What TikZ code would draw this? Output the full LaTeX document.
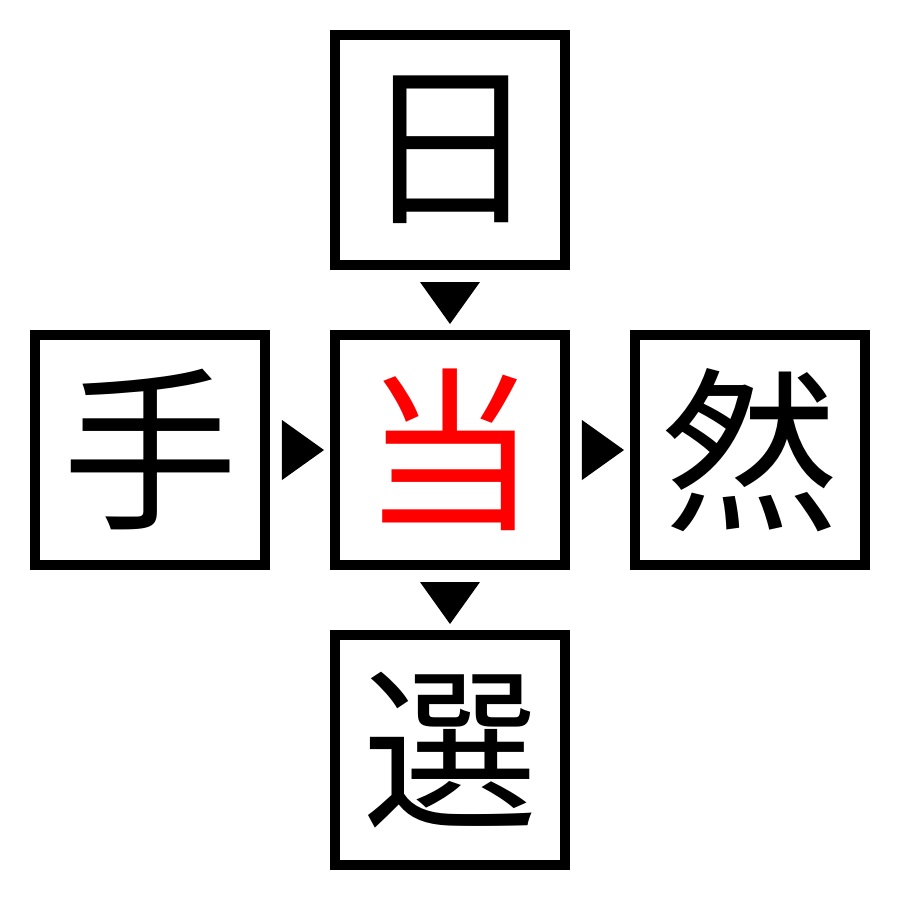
\documentclass[tikz,border=0pt]{standalone}
\usepackage{fontspec}
\newfontfamily\cjk{Noto Sans CJK JP}
\usetikzlibrary{calc, positioning}

\begin{document}
\begin{tikzpicture}[
		kanjibox/.style = {draw, line width = 1mm, minimum size = 2.3cm, inner sep = 0pt, font = \cjk\fontsize{50}{50}\selectfont},
		pointer/.style = {fill = black}
	]
	\def\GAP{0.6};
	\def\HW{0.3};

	\useasboundingbox (-4.5,-4.5) rectangle (4.5,4.5);

	\node [kanjibox, text = red] (dang) at (0,0) {当};
	\node [kanjibox, above = \GAP of dang] (ri) {日};
	\node [kanjibox, below = \GAP of dang] (xuan) {選};
	\node [kanjibox, left = \GAP of dang] (shou) {手};
	\node [kanjibox, right = \GAP of dang] (ran) {然};

	% downward pointers
	\foreach \a/\b in {ri/dang, dang/xuan}
	{
		\coordinate (m) at ($(\a.south)!0.5!(\b.north)$);
		\fill [pointer] ($(m)+(-\HW,0.18)$) -- ($(m)+(\HW,0.18)$) -- ($(m)+(0,-0.24)$) -- cycle;
	}

	% rightward pointers
	\foreach \a/\b in {shou/dang, dang/ran}
	{
		\coordinate (m) at ($(\a.east)!0.5!(\b.west)$);
		\fill [pointer] ($(m)+(-0.18,\HW)$) -- ($(m)+(-0.18,-\HW)$) -- ($(m)+(0.24,0)$) -- cycle;
	}
\end{tikzpicture}
\end{document}
